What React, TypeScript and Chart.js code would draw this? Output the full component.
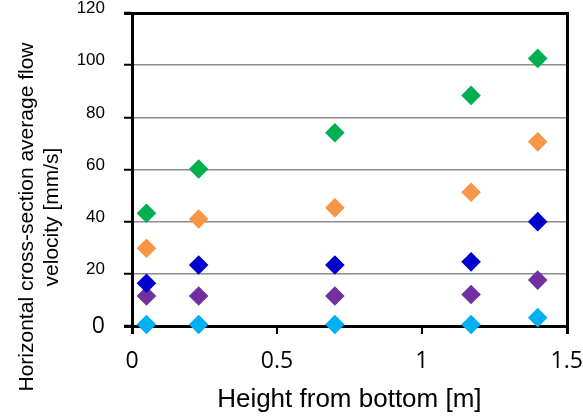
import React, { useEffect, useRef } from "react";
import { Chart, registerables } from "chart.js";

Chart.register(...registerables);

// ---- data ----
const heights = [0.05, 0.23, 0.7, 1.17, 1.4];
const greenSeries = [43.2, 60.2, 74.1, 88.4, 102.6];
const orangeSeries = [29.8, 41.0, 45.3, 51.3, 70.6];
const blueSeries = [16.4, 23.4, 23.4, 24.6, 40.0];
const purpleSeries = [11.5, 11.5, 11.5, 12.1, 17.6];
const cyanSeries = [0.6, 0.6, 0.6, 0.6, 3.2];
const xTicks = [0, 0.5, 1, 1.5];
const yTicks = [0, 20, 40, 60, 80, 100, 120];
const xTitle = "Height from bottom [m]";
const yTitle = ["Horizontal cross-section average flow", "velocity [mm/s]"];

const toPoints = (ys: number[]) => heights.map((x, i) => ({ x, y: ys[i] }));

// left and bottom axes, drawn under the markers
const axesPlugin = {
  id: "axesPlugin",
  beforeDatasetsDraw(chart: any) {
    const { ctx, chartArea: a } = chart;
    const L = Math.round(a.left);
    const T = Math.round(a.top);
    const R = Math.round(a.right);
    const B = Math.round(a.bottom);
    ctx.save();
    ctx.fillStyle = "#000000";
    ctx.fillRect(L - 1, T - 1, 3, B - T + 9);
    ctx.fillRect(L - 8, B - 1, R - L + 9, 3);
    ctx.restore();
  },
};

// top and right edges of the frame + y axis title
const overlayPlugin = {
  id: "overlayPlugin",
  afterDraw(chart: any) {
    const { ctx, chartArea: a } = chart;
    const L = Math.round(a.left);
    const T = Math.round(a.top);
    const R = Math.round(a.right);
    const B = Math.round(a.bottom);
    ctx.save();
    ctx.fillStyle = "#000000";
    ctx.fillRect(L - 8, T - 1, R - L + 10, 3);
    ctx.fillRect(R - 1, T - 1, 3, B - T + 9);
    ctx.restore();

    ctx.save();
    ctx.fillStyle = "#000";
    ctx.font = '21px "Liberation Sans", Arial, sans-serif';
    ctx.textAlign = "center";
    ctx.textBaseline = "alphabetic";
    ctx.translate(0, 217);
    ctx.rotate(-Math.PI / 2);
    yTitle.forEach((line, i) => ctx.fillText(line, 0, 33 + i * 25));
    ctx.restore();
  },
};

export default function App() {
  const ref = useRef<HTMLCanvasElement | null>(null);

  useEffect(() => {
    if (!ref.current) return;
    const mk = (data: number[], color: string) => ({
      data: toPoints(data),
      backgroundColor: color,
      borderColor: color,
      borderWidth: 0,
      pointStyle: "rectRot",
      pointRadius: 9.8,
      pointHoverRadius: 9.8,
      showLine: false,
      clip: false,
    });
    const chart = new Chart(ref.current, {
      type: "scatter",
      data: {
        datasets: [
          mk(cyanSeries, "#00B0F0"),
          mk(blueSeries, "#0000CC"),
          mk(purpleSeries, "#7030A0"),
          mk(orangeSeries, "#F79646"),
          mk(greenSeries, "#00B050"),
        ] as any,
      },
      options: {
        animation: false,
        responsive: false,
        devicePixelRatio: 1,
        layout: { padding: { left: 0, top: 13, right: 16.3, bottom: 0 } },
        plugins: { legend: { display: false }, tooltip: { enabled: false } },
        scales: {
          x: {
            type: "linear",
            min: 0,
            max: 1.5,
            afterBuildTicks: (s: any) => {
              s.ticks = xTicks.map((v) => ({ value: v }));
            },
            afterFit: (s: any) => {
              s.height = 93;
              s.paddingLeft = 0;
              s.paddingRight = 0;
            },
            border: { color: "#000", width: 2 },
            grid: {
              drawOnChartArea: false,
              lineWidth: 2,
              tickLength: 8,
              color: "#000",
              tickColor: "#000",
              tickWidth: 2,
            },
            ticks: {
              color: "#000",
              padding: 14,
              maxRotation: 0,
              autoSkip: false,
              font: { family: "'Open Sans'", size: 23 },
              callback: (v: any) => String(v),
            },
            title: {
              display: true,
              text: xTitle,
              color: "#000",
              font: { family: "'Liberation Sans'", size: 26 },
              padding: { top: 0, bottom: 4 },
            },
          },
          y: {
            type: "linear",
            min: 0,
            max: 120,
            afterBuildTicks: (s: any) => {
              s.ticks = yTicks.map((v) => ({ value: v }));
            },
            afterFit: (s: any) => {
              s.width = 132;
              s.paddingTop = 0;
              s.paddingBottom = 0;
            },
            border: { color: "#000", width: 2 },
            grid: {
              color: (c: any) =>
                c.tick && (c.tick.value === 0 || c.tick.value === 120) ? "#000" : "#8c8c8c",
              lineWidth: 1.5,
              tickLength: 8,
              tickColor: "#000",
              tickWidth: 2,
            },
            ticks: {
              color: "#000",
              padding: 19,
              labelOffset: -4.5,
              font: (c: any) =>
                c.tick && c.tick.value === 0
                  ? { family: "'Open Sans'", size: 23, lineHeight: "9px" }
                  : { family: "'Liberation Sans'", size: 17 },
              callback: (v: any) => (v === 0 ? ["", "0"] : String(v)),
            },
          },
        },
      } as any,
      plugins: [axesPlugin, overlayPlugin],
    });
    return () => chart.destroy();
  }, []);

  return (
    <div style={{ position: "fixed", left: 0, top: 0, width: 583, height: 419, background: "#fff" }}>
      <canvas ref={ref} width={583} height={419} style={{ display: "block" }} />
    </div>
  );
}
